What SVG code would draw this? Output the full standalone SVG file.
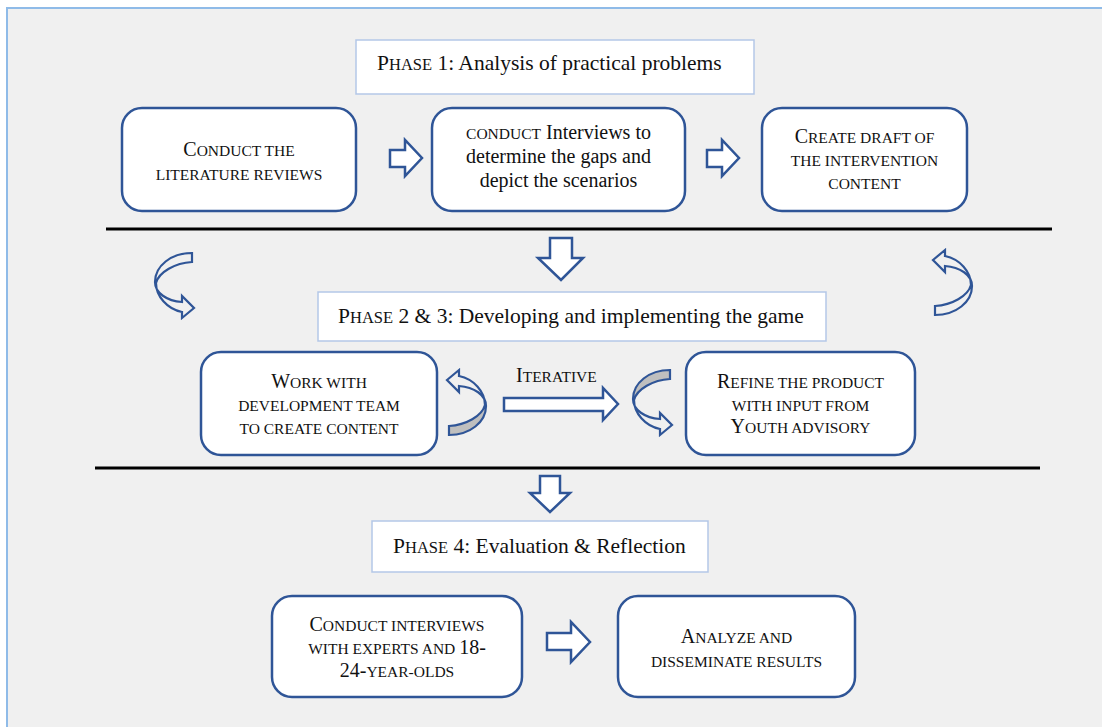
<svg xmlns="http://www.w3.org/2000/svg" xmlns:xlink="http://www.w3.org/1999/xlink" width="1102" height="727" viewBox="0 0 1102 727">
  <style>
    .frame { fill: #f0f0f0; stroke: #8fbbe8; stroke-width: 2; }
    .node { fill: #ffffff; stroke: #2f5597; stroke-width: 2.5; }
    .phase { fill: #ffffff; stroke: #b4c7e7; stroke-width: 1.5; }
    .t { font-family: "Liberation Serif", "Times New Roman", serif; fill: #111111; font-size: 20px; }
    .c { text-anchor: middle; }
    .sc { font-size: 15.5px; }
    .ph { font-size: 21.5px; }
    .phsc { font-size: 16.5px; }
    .arrow { fill: #ffffff; stroke: #2f5597; stroke-width: 2.5; stroke-linejoin: miter; }
    .curl { fill: none; stroke: #2f5597; stroke-width: 2.2; stroke-linejoin: miter; }
    .face { fill: #bfbfbf; }
    .divider { stroke: #000000; stroke-width: 3; }
  </style>
  <defs>
    <!-- twisted ribbon arrow: open end top-right, head bottom-right -->
    <g id="curl">
      <path class="curl" d="M38,0 C17,0 1,13 1,29 C1,40 13,48 28,49 L28,43 L40,55 L28,65 L28,59 C13,56 2,43 2,30 C5,19 21,10 38,9 Z"/>
    </g>
    <g id="curl-shaded">
      <path class="face" d="M38,0 C17,0 1,13 1,29 L2,30 C5,19 21,10 38,9 Z"/>
      <path class="curl" d="M38,0 C17,0 1,13 1,29 C1,40 13,48 28,49 L28,43 L40,55 L28,65 L28,59 C13,56 2,43 2,30 C5,19 21,10 38,9 Z"/>
    </g>
  </defs>

  <rect class="frame" x="7" y="8" width="1200" height="800"/>

  <!-- phase dividers -->
  <line class="divider" x1="106" y1="229" x2="1052" y2="229"/>
  <line class="divider" x1="95" y1="468" x2="1040" y2="468"/>

  <!-- phase headers -->
  <g id="phase1">
    <rect class="phase" x="356" y="40" width="398" height="54"/>
    <text class="t ph" x="377" y="70">P<tspan class="phsc">HASE</tspan> 1: Analysis of practical problems</text>
  </g>
  <g id="phase23">
    <rect class="phase" x="318" y="292" width="508" height="49"/>
    <text class="t ph" x="338" y="323">P<tspan class="phsc">HASE</tspan> 2 &amp; 3: Developing and implementing the game</text>
  </g>
  <g id="phase4">
    <rect class="phase" x="372" y="521" width="336" height="51"/>
    <text class="t ph" x="393" y="553">P<tspan class="phsc">HASE</tspan> 4: Evaluation &amp; Reflection</text>
  </g>

  <!-- phase 1 steps -->
  <g id="literature">
    <rect class="node" x="122" y="108" width="234" height="103" rx="20"/>
    <text class="t c" x="239" y="156">C<tspan class="sc">ONDUCT THE</tspan></text>
    <text class="t c sc" x="239" y="180">LITERATURE REVIEWS</text>
  </g>
  <g id="interviews">
    <rect class="node" x="432" y="108" width="253" height="103" rx="20"/>
    <text class="t c" x="558.5" y="139"><tspan class="sc">CONDUCT</tspan> Interviews to</text>
    <text class="t c" x="558.5" y="163">determine the gaps and</text>
    <text class="t c" x="558.5" y="187">depict the scenarios</text>
  </g>
  <g id="draft">
    <rect class="node" x="762" y="108" width="205" height="103" rx="20"/>
    <text class="t c" x="864.5" y="143">C<tspan class="sc">REATE DRAFT OF</tspan></text>
    <text class="t c sc" x="864.5" y="166">THE INTERVENTION</text>
    <text class="t c sc" x="864.5" y="189">CONTENT</text>
  </g>

  <!-- phase 2 & 3 steps -->
  <g id="dev-team">
    <rect class="node" x="201" y="352" width="236" height="103" rx="20"/>
    <text class="t c" x="319" y="388">W<tspan class="sc">ORK WITH</tspan></text>
    <text class="t c sc" x="319" y="411">DEVELOPMENT TEAM</text>
    <text class="t c sc" x="319" y="434">TO CREATE CONTENT</text>
  </g>
  <g id="refine">
    <rect class="node" x="686" y="352" width="229" height="103" rx="20"/>
    <text class="t c" x="800.5" y="388">R<tspan class="sc">EFINE THE PRODUCT</tspan></text>
    <text class="t c sc" x="800.5" y="411">WITH INPUT FROM</text>
    <text class="t c" x="800.5" y="433">Y<tspan class="sc">OUTH ADVISORY</tspan></text>
  </g>
  <text id="iterative" class="t" x="516" y="382">I<tspan class="sc">TERATIVE</tspan></text>

  <!-- phase 4 steps -->
  <g id="expert-interviews">
    <rect class="node" x="272" y="596" width="250" height="101" rx="20"/>
    <text class="t c" x="397" y="631">C<tspan class="sc">ONDUCT INTERVIEWS</tspan></text>
    <text class="t c" x="397" y="654"><tspan class="sc">WITH EXPERTS AND </tspan>18-</text>
    <text class="t c" x="397" y="677">24-<tspan class="sc">YEAR-OLDS</tspan></text>
  </g>
  <g id="disseminate">
    <rect class="node" x="618" y="596" width="237" height="101" rx="20"/>
    <text class="t c" x="736.5" y="643">A<tspan class="sc">NALYZE AND</tspan></text>
    <text class="t c sc" x="736.5" y="667">DISSEMINATE RESULTS</text>
  </g>

  <!-- connectors -->
  <g id="connectors">
    <polygon class="arrow" points="390,150 405,150 405,140 422,158 405,176 405,167 390,167"/>
    <polygon class="arrow" points="707,150 722,150 722,140 739,158 722,176 722,167 707,167"/>
    <polygon class="arrow" points="550,238 572,238 572,258 583,258 561,280 538,258 550,258"/>
    <polygon class="arrow" points="504,398 603,398 603,388 618,404 603,420 603,411 504,411"/>
    <polygon class="arrow" points="540,476 560,476 560,493 570,493 550,512 530,493 540,493"/>
    <polygon class="arrow" points="547,633 571,633 571,622 590,642 571,662 571,650 547,650"/>
    <use xlink:href="#curl" transform="translate(154,253)"/>
    <use xlink:href="#curl" transform="translate(973,315) rotate(180)"/>
    <use xlink:href="#curl-shaded" transform="translate(487,435) rotate(180)"/>
    <use xlink:href="#curl-shaded" transform="translate(632,370)"/>
  </g>
</svg>
